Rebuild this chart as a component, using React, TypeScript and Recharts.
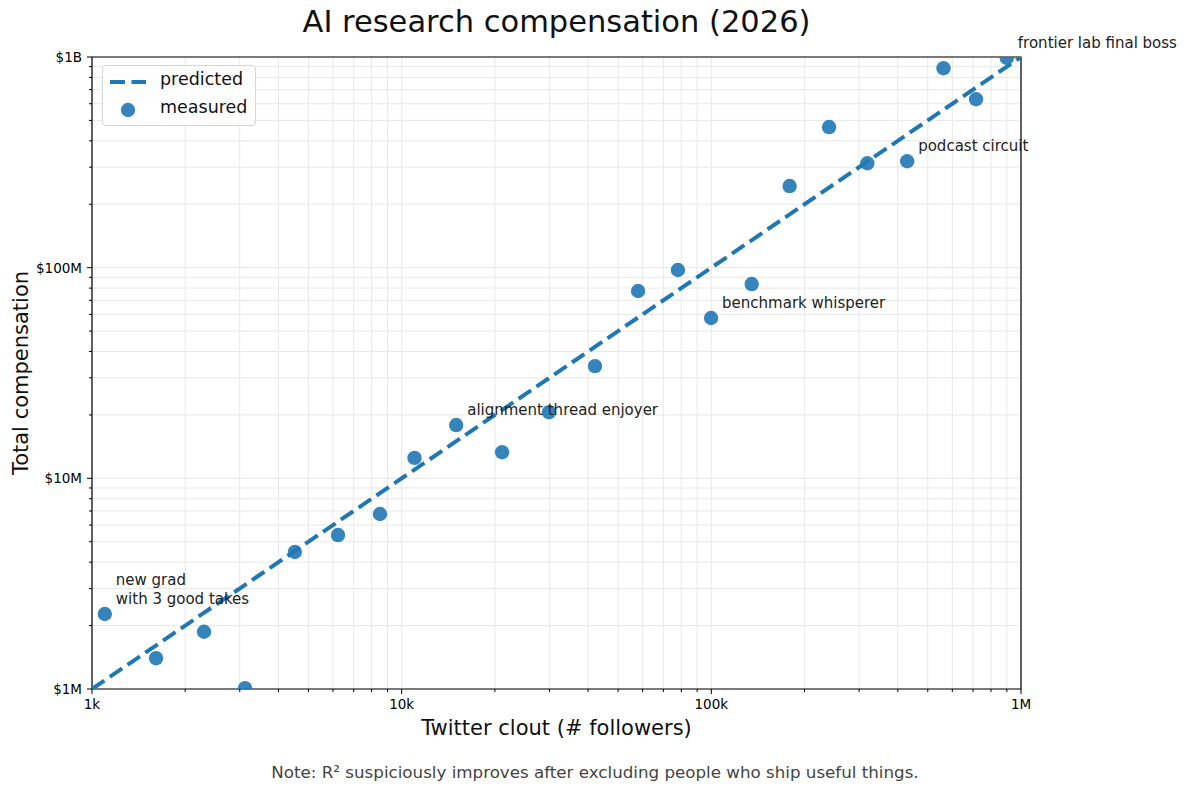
import React from "react";
import {
  ScatterChart,
  Scatter,
  XAxis,
  YAxis,
  CartesianGrid,
  ReferenceArea,
  ReferenceDot,
} from "recharts";

// measured points
const followers = [
  1100, 1610, 2300, 3120, 4520, 6230, 8510, 11000, 15000, 21100, 29900, 42100,
  58000, 78000, 99800, 135000, 179000, 240000, 319000, 429000, 562000, 716000,
  900000,
];
const compensation = [
  2.27e6, 1.4e6, 1.87e6, 1.01e6, 4.47e6, 5.38e6, 6.77e6, 12.5e6, 17.9e6, 13.3e6,
  20.6e6, 34.1e6, 77.5e6, 97.5e6, 57.7e6, 83.6e6, 244e6, 465e6, 313e6, 320e6,
  884e6, 630e6, 0.99e9,
];

// predicted fit line
const predictedFollowers = [1e3, 1e6];
const predictedCompensation = [1e6, 1e9];

// ticks
const xTickValues = [1e3, 1e4, 1e5, 1e6];
const xTickLabels = ["1k", "10k", "100k", "1M"];
const yTickValues = [1e6, 1e7, 1e8, 1e9];
const yTickLabels = ["$1M", "$10M", "$100M", "$1B"];

// annotations (index into measured points)
const annotationIndex = [0, 8, 14, 19, 22];
const annotationText = [
  "new grad\nwith 3 good takes",
  "alignment thread enjoyer",
  "benchmark whisperer",
  "podcast circuit",
  "frontier lab final boss",
];

const BLUE = "#1f77b4";
const FONT = "'DejaVu Sans', sans-serif";

const measured = followers.map((f, i) => ({ x: f, y: compensation[i] }));
const predicted = predictedFollowers.map((f, i) => ({
  x: f,
  y: predictedCompensation[i],
}));

function withMinor(majors: number[]) {
  const out: number[] = [];
  for (let i = 0; i < majors.length - 1; i++) {
    for (let k = 1; k < 10; k++) out.push(majors[i] * k);
  }
  out.push(majors[majors.length - 1]);
  return out;
}

const isMajor = (v: number) => {
  const l = Math.log10(v);
  return Math.abs(l - Math.round(l)) < 1e-9;
};

const XTick = (props: any) => {
  const { x, y, payload } = props;
  const v = payload.value;
  const major = isMajor(v);
  const idx = xTickValues.findIndex((t) => Math.abs(t - v) < 1e-6 * t);
  return (
    <g>
      <line x1={x} x2={x} y1={y} y2={y + (major ? 5 : 3)} stroke="#000" strokeWidth={1} />
      {major && idx >= 0 && (
        <text
          x={x}
          y={y + 10}
          textAnchor="middle"
          dominantBaseline="hanging"
          fontSize={13.5}
          fill="#000"
          fontFamily={FONT}
        >
          {xTickLabels[idx]}
        </text>
      )}
    </g>
  );
};

const YTick = (props: any) => {
  const { x, y, payload } = props;
  const v = payload.value;
  const major = isMajor(v);
  const idx = yTickValues.findIndex((t) => Math.abs(t - v) < 1e-6 * t);
  return (
    <g>
      <line x1={x - (major ? 5 : 3)} x2={x} y1={y} y2={y} stroke="#000" strokeWidth={1} />
      {major && idx >= 0 && (
        <text
          x={x - 10}
          y={y}
          textAnchor="end"
          dominantBaseline="central"
          fontSize={13.5}
          fill="#000"
          fontFamily={FONT}
        >
          {yTickLabels[idx]}
        </text>
      )}
    </g>
  );
};

const Annotation = (text: string) => (props: any) => {
  const { cx, cy } = props;
  const lines = text.split("\n");
  return (
    <text
      x={cx + 11}
      y={cy - 10 - (lines.length - 1) * 19}
      fontSize={15}
      fill="#222"
      fontFamily={FONT}
    >
      {lines.map((l, i) => (
        <tspan key={i} x={cx + 11} dy={i === 0 ? 0 : 19}>
          {l}
        </tspan>
      ))}
    </text>
  );
};

export default function App() {
  return (
    <div
      style={{
        position: "absolute",
        left: 0,
        top: 0,
        width: 1190,
        height: 792,
        background: "#fff",
        fontFamily: FONT,
      }}
    >
      <ScatterChart
        width={1190}
        height={792}
        margin={{ top: 57, right: 169, bottom: 73, left: 32 }}
        style={{ fontFamily: FONT }}
      >
        <CartesianGrid stroke="#e8e8e8" strokeWidth={1} />
        <XAxis
          type="number"
          dataKey="x"
          scale="log"
          domain={[1e3, 1e6]}
          ticks={withMinor(xTickValues)}
          interval={0}
          allowDataOverflow
          height={30}
          tickSize={0}
          tickMargin={0}
          axisLine={false}
          tick={<XTick />}
        />
        <YAxis
          type="number"
          dataKey="y"
          scale="log"
          domain={[1e6, 1e9]}
          ticks={withMinor(yTickValues)}
          interval={0}
          allowDataOverflow
          width={60}
          tickSize={0}
          tickMargin={0}
          axisLine={false}
          tick={<YTick />}
        />
        <Scatter
          data={predicted}
          fill={BLUE}
          line={{ stroke: BLUE, strokeWidth: 4, strokeDasharray: "15 6.5" }}
          shape={() => <g />}
          isAnimationActive={false}
        />
        <Scatter
          data={measured}
          fill={BLUE}
          shape={(p: any) => (
            <circle cx={p.cx} cy={p.cy} r={7.2} fill={BLUE} fillOpacity={0.9} />
          )}
          isAnimationActive={false}
        />
        <ReferenceArea
          x1={1e3}
          x2={1e6}
          y1={1e6}
          y2={1e9}
          fill="none"
          fillOpacity={0}
          stroke="#000"
          strokeWidth={1.2}
          strokeOpacity={1}
        />
        {annotationIndex.map((pi, i) => (
          <ReferenceDot
            key={i}
            x={followers[pi]}
            y={compensation[pi]}
            r={0}
            shape={Annotation(annotationText[i])}
          />
        ))}
      </ScatterChart>

      {/* title */}
      <div
        style={{
          position: "absolute",
          left: 92,
          width: 929,
          top: 4,
          textAlign: "center",
          fontSize: 30.5,
          color: "#111",
        }}
      >
        AI research compensation (2026)
      </div>

      {/* x label */}
      <div
        style={{
          position: "absolute",
          left: 92,
          width: 929,
          top: 716,
          textAlign: "center",
          fontSize: 21,
          color: "#111",
        }}
      >
        Twitter clout (# followers)
      </div>

      {/* y label */}
      <div
        style={{
          position: "absolute",
          left: 21,
          top: 373,
          transform: "translate(-50%, -50%) rotate(-90deg)",
          whiteSpace: "nowrap",
          fontSize: 21,
          color: "#111",
        }}
      >
        Total compensation
      </div>

      {/* legend */}
      <div
        style={{
          position: "absolute",
          left: 102,
          top: 65,
          width: 154,
          height: 61,
          border: "1px solid #d6d6d6",
          borderRadius: 4,
          background: "rgba(255,255,255,0.85)",
          boxSizing: "border-box",
        }}
      >
        <svg width={50} height={60} style={{ position: "absolute", left: 0, top: 0 }}>
          <line x1={7} x2={43} y1={16} y2={16} stroke={BLUE} strokeWidth={4} strokeDasharray="15 6.5" />
          <circle cx={25} cy={44} r={7.2} fill={BLUE} fillOpacity={0.9} />
        </svg>
        <div style={{ position: "absolute", left: 57, top: 3, fontSize: 17.5, color: "#111" }}>
          predicted
        </div>
        <div style={{ position: "absolute", left: 57, top: 31, fontSize: 17.5, color: "#111" }}>
          measured
        </div>
      </div>

      {/* note */}
      <div
        style={{
          position: "absolute",
          left: 0,
          width: 1190,
          top: 762,
          textAlign: "center",
          fontSize: 16.7,
          color: "#444",
        }}
      >
        Note: R² suspiciously improves after excluding people who ship useful things.
      </div>
    </div>
  );
}
